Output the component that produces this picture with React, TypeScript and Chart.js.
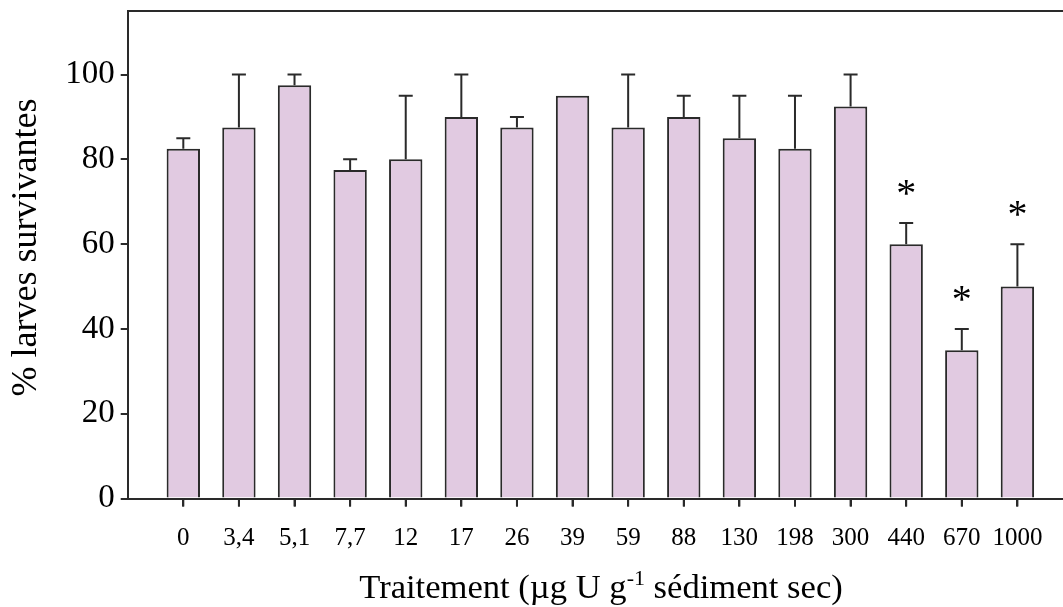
import React, { useEffect, useRef } from "react";
import { Chart, registerables } from "chart.js";

Chart.register(...registerables);

const categories = ["0", "3,4", "5,1", "7,7", "12", "17", "26", "39", "59", "88", "130", "198", "300", "440", "670", "1000"];
const survival = [82.5, 87.5, 97.5, 77.5, 80, 90, 87.5, 95, 87.5, 90, 85, 82.5, 92.5, 60, 35, 50];
const errors = [2.5, 12.5, 2.5, 2.5, 15, 10, 2.5, 0, 12.5, 5, 10, 12.5, 7.5, 5, 5, 10];
const significant = [false, false, false, false, false, false, false, false, false, false, false, false, false, true, true, true];
const yTicks = [0, 20, 40, 60, 80, 100];

const FONT = "'Liberation Serif', 'Times New Roman', serif";
const INK = "#2a2a2a";

const decorPlugin = {
  id: "decor",
  afterDatasetsDraw(chart: any) {
    const { ctx, chartArea, scales } = chart;
    const xs = scales.x;
    const ys = scales.y;
    ctx.save();
    ctx.strokeStyle = INK;
    ctx.lineWidth = 2;
    survival.forEach((v, i) => {
      const e = errors[i];
      const x = xs.getPixelForValue(i);
      ctx.beginPath();
      ctx.moveTo(x, chartArea.bottom);
      ctx.lineTo(x, chartArea.bottom + 8);
      ctx.stroke();
      if (e > 0) {
        const y0 = ys.getPixelForValue(v);
        const y1 = ys.getPixelForValue(v + e);
        ctx.beginPath();
        ctx.moveTo(x, y0);
        ctx.lineTo(x, y1);
        ctx.moveTo(x - 7, y1);
        ctx.lineTo(x + 7, y1);
        ctx.stroke();
      }
      if (significant[i]) {
        const yTop = ys.getPixelForValue(v + e);
        const cy = yTop - 38;
        ctx.fillStyle = "#000";
        ctx.font = `40px ${FONT}`;
        ctx.textAlign = "center";
        ctx.textBaseline = "alphabetic";
        ctx.fillText("*", x, cy + 0.52 * 40);
      }
    });
    ctx.beginPath();
    ctx.moveTo(chartArea.left, chartArea.top);
    ctx.lineTo(chartArea.right, chartArea.top);
    ctx.stroke();
    ctx.restore();
  },
  afterDraw(chart: any) {
    const { ctx } = chart;
    ctx.save();
    ctx.fillStyle = "#000";
    ctx.font = `36px ${FONT}`;
    ctx.translate(36, 247.5);
    ctx.rotate(-Math.PI / 2);
    ctx.textAlign = "center";
    ctx.textBaseline = "alphabetic";
    ctx.fillText("% larves survivantes", 0, 0);
    ctx.restore();

    ctx.save();
    ctx.fillStyle = "#000";
    ctx.textBaseline = "alphabetic";
    ctx.textAlign = "left";
    const p1 = "Traitement (\u00B5g U g";
    const sup = "-1";
    const p2 = " s\u00E9diment sec)";
    const big = `34.6px ${FONT}`;
    const small = `22px ${FONT}`;
    ctx.font = big;
    const w1 = ctx.measureText(p1).width;
    const w3 = ctx.measureText(p2).width;
    ctx.font = small;
    const w2 = ctx.measureText(sup).width;
    const total = w1 + w2 + w3;
    const cx = 601;
    const base = 598;
    let x = cx - total / 2;
    ctx.font = big;
    ctx.fillText(p1, x, base);
    x += w1;
    ctx.font = small;
    ctx.fillText(sup, x, base - 13);
    x += w2;
    ctx.font = big;
    ctx.fillText(p2, x, base);
    ctx.restore();
  },
};

export default function App() {
  const ref = useRef<HTMLCanvasElement | null>(null);
  useEffect(() => {
    if (!ref.current) return;
    const chart = new Chart(ref.current, {
      type: "bar",
      data: {
        datasets: [
          {
            data: survival.map((v, i) => ({ x: i, y: v })),
            backgroundColor: "#e1cae1",
            borderColor: INK,
            borderWidth: 2,
            barPercentage: 0.6,
            categoryPercentage: 1,
          } as any,
        ],
      },
      options: {
        responsive: false,
        animation: false,
        layout: { padding: { top: 11, left: 0, right: 0, bottom: 0 } },
        plugins: { legend: { display: false }, tooltip: { enabled: false } },
        scales: {
          x: {
            type: "linear",
            offset: false,
            min: -1,
            max: 15.82,
            afterBuildTicks: (s: any) => {
              s.ticks = categories.map((_, i) => ({ value: i }));
            },
            afterFit: (s: any) => {
              s.height = 108.5;
              s.paddingLeft = 0;
              s.paddingRight = 0;
            },
            ticks: {
              callback: (v: any) => categories[v] ?? "",
              font: { family: FONT, size: 25 },
              color: "#000",
              padding: 17,
              maxRotation: 0,
              autoSkip: false,
            },
            grid: { offset: false, drawOnChartArea: false, drawTicks: true, tickLength: 8, color: INK, lineWidth: 2 },
            border: { display: true, color: INK, width: 2 },
          },
          y: {
            min: 0,
            max: 115,
            afterBuildTicks: (s: any) => {
              s.ticks = yTicks.map((v) => ({ value: v }));
            },
            afterFit: (s: any) => {
              s.width = 127.7;
              s.paddingTop = 0;
              s.paddingBottom = 0;
            },
            ticks: { font: { family: FONT, size: 33 }, color: "#000", padding: 6 },
            grid: { drawOnChartArea: false, drawTicks: true, tickLength: 7, color: INK, lineWidth: 2 },
            border: { display: true, color: INK, width: 2 },
          },
        },
      } as any,
      plugins: [decorPlugin],
    });
    return () => chart.destroy();
  }, []);
  return (
    <div style={{ position: "absolute", left: 0, top: 0, width: 1063, height: 607 }}>
      <canvas ref={ref} width={1063} height={607} style={{ display: "block" }} />
    </div>
  );
}
